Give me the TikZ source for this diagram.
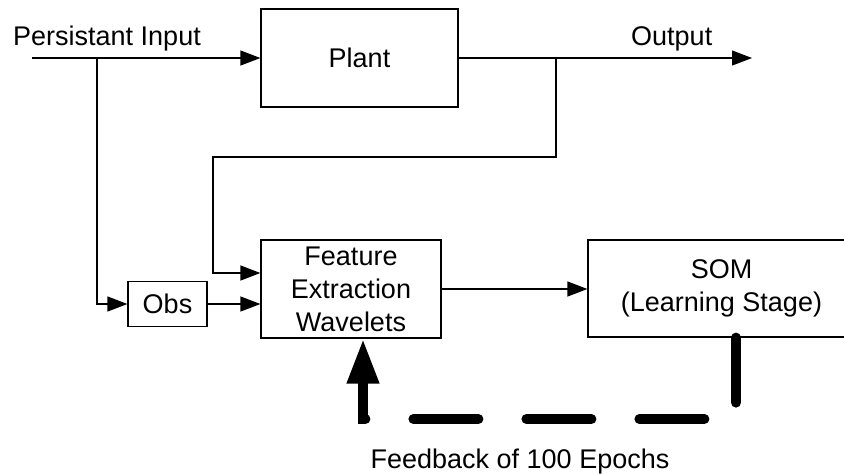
\documentclass[tikz,border=0pt]{standalone}
\usepackage{fontspec}
\setmainfont{Liberation Sans}
\usetikzlibrary{arrows.meta}
\begin{document}
\begin{tikzpicture}
	[x = 1pt, y = -1pt,
	block/.style ={draw, line width = 1.2pt, inner sep = 0pt, align = center, font = \fontsize{27}{33}\selectfont},
	sig/.style ={line width = 1.2pt, -{Triangle[length = 20pt, width = 15pt]}},
	fb/.style ={line width = 10pt, line cap = round, dash pattern = on 65pt off 48pt, -{Triangle[length = 45pt, width = 30pt]}},
	lbl/.style ={inner sep = 0pt, font = \fontsize{27}{33}\selectfont}]
	\clip (0,0) rectangle (844,475);
	\node[block, minimum width = 197pt, minimum height = 98pt] (plant) at (359.5,58) {Plant};
	\node[block, minimum width = 79pt, minimum height = 45pt] (obs) at (167.5,304) {Obs};
	\node[block, minimum width = 180pt, minimum height = 98pt] (fe) at (351,289) {Feature\\Extraction\\Wavelets};
	\node[block, minimum width = 267pt, minimum height = 97pt] (som) at (721.5,288.5) {SOM\\(Learning Stage)};
	\coordinate (in) at (32,58);
	\coordinate (b1) at (97,58);
	\coordinate (out) at (752,58);
	\coordinate (b2) at (556,58);
	\coordinate (c1) at (213,157);
	\coordinate (f1) at (736,419);
	\coordinate (f2) at (363,419);
	\node[lbl, anchor = base west] (inlbl) at (13,45) {Persistant Input};
	\node[lbl, anchor = base west] (outlbl) at (631,45) {Output};
	\node[lbl, anchor = base] (fblbl) at (520,468) {Feedback of 100 Epochs};
	\draw[sig] (in) -- (plant.west);
	\draw[sig] (b1) |- (obs.west);
	\draw[sig] (obs.east) -- (obs.east -| fe.west);
	\draw[sig] (plant.east) -- (out);
	\draw[sig] (b2) |- (c1) |- ([yshift = 16pt]fe.west);
	\draw[sig] (fe.east) -- (fe.east -| som.west);
	\draw[fb] (som.south -| f1) -- (f1) -- (f2) -- (fe.south -| f2);
\end{tikzpicture}
\end{document}
